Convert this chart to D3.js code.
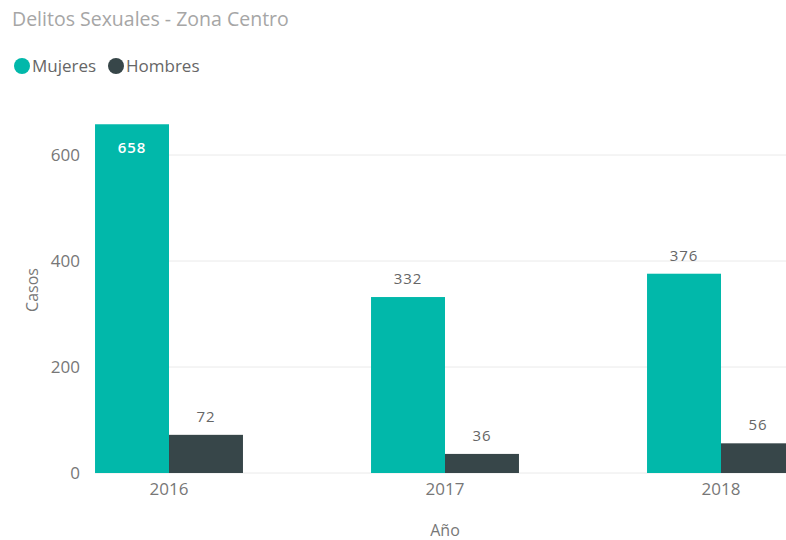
<!DOCTYPE html>
<html>
<head>
<meta charset="utf-8">
<script src="https://cdn.jsdelivr.net/npm/d3@7"></script>
<style>
  body { margin: 0; background: #fff; }
  text { font-family: "Segoe UI", "Open Sans", sans-serif; }
</style>
</head>
<body>
<div id="chart"></div>
<script>
// data
const years = ["2016", "2017", "2018"];
const series = ["Mujeres", "Hombres"];
const mujeres = [658, 332, 376];
const hombres = [72, 36, 56];
const yTicks = [0, 200, 400, 600];
const colors = ["#01B8AA", "#374649"];

const width = 786, height = 540;

const svg = d3.select("#chart")
    .append("svg")
    .attr("width", width)
    .attr("height", height);

// scales
const x = d3.scaleBand()
    .domain(years)
    .range([31, 859])
    .paddingInner(0.464)
    .paddingOuter(0.232);

const xInner = d3.scaleBand()
    .domain(series)
    .range([0, x.bandwidth()]);

const y = d3.scaleLinear()
    .domain([0, 600])
    .range([473, 155]);

// title
svg.append("text")
    .attr("x", 12)
    .attr("y", 26)
    .attr("fill", "#a6a6a6")
    .style("font-size", "19.5px")
    .text("Delitos Sexuales - Zona Centro");

// legend
const legendX = [22, 116];
series.forEach((s, i) => {
    svg.append("circle")
        .attr("cx", legendX[i])
        .attr("cy", 66)
        .attr("r", 8)
        .attr("fill", colors[i]);
    svg.append("text")
        .attr("x", legendX[i] + 10)
        .attr("y", 72)
        .attr("fill", "#666")
        .style("font-size", "17px")
        .text(s);
});

// gridlines
svg.append("g")
    .selectAll("line")
    .data(yTicks)
    .enter()
    .append("line")
    .attr("x1", 95)
    .attr("x2", width)
    .attr("y1", d => y(d))
    .attr("y2", d => y(d))
    .attr("stroke", "#eaeaea")
    .attr("stroke-width", 1);

// y axis labels
const yAxis = svg.append("g")
    .attr("transform", "translate(80,0)")
    .call(d3.axisLeft(y).tickValues(yTicks).tickSize(0).tickPadding(0));
yAxis.select(".domain").remove();
yAxis.selectAll("text")
    .attr("fill", "#777")
    .style("font-size", "17px");

// x axis labels
const xAxis = svg.append("g")
    .attr("transform", "translate(0,473)")
    .call(d3.axisBottom(x).tickSize(0).tickPadding(10));
xAxis.select(".domain").remove();
xAxis.selectAll("text")
    .attr("fill", "#777")
    .style("font-size", "17px");

// axis titles
svg.append("text")
    .attr("transform", "translate(38,290) rotate(-90)")
    .attr("text-anchor", "middle")
    .attr("fill", "#777")
    .style("font-size", "16px")
    .text("Casos");

svg.append("text")
    .attr("x", x("2017") + x.bandwidth() / 2)
    .attr("y", 536)
    .attr("text-anchor", "middle")
    .attr("fill", "#777")
    .style("font-size", "16px")
    .text("Año");

// bars
const rows = years.map((yr, i) => ({ year: yr, values: [mujeres[i], hombres[i]] }));

const groups = svg.append("g")
    .selectAll("g")
    .data(rows)
    .enter()
    .append("g")
    .attr("transform", d => `translate(${x(d.year)},0)`);

const cells = groups.selectAll("g")
    .data(d => d.values.map((v, i) => ({ key: series[i], value: v, idx: i })))
    .enter()
    .append("g");

cells.append("rect")
    .attr("x", d => xInner(d.key))
    .attr("y", d => y(d.value))
    .attr("width", xInner.bandwidth())
    .attr("height", d => y(0) - y(d.value))
    .attr("fill", d => colors[d.idx]);

// data labels: inside at top if no room above
cells.append("text")
    .attr("x", d => xInner(d.key) + xInner.bandwidth() / 2)
    .attr("y", d => y(d.value) < 150 ? y(d.value) + 29 : y(d.value) - 13)
    .attr("text-anchor", "middle")
    .attr("fill", d => y(d.value) < 150 ? "#fff" : "#666")
    .style("font-size", "15px")
    .style("font-weight", d => y(d.value) < 150 ? "600" : "normal")
    .style("letter-spacing", "1px")
    .text(d => d.value);
</script>
</body>
</html>
